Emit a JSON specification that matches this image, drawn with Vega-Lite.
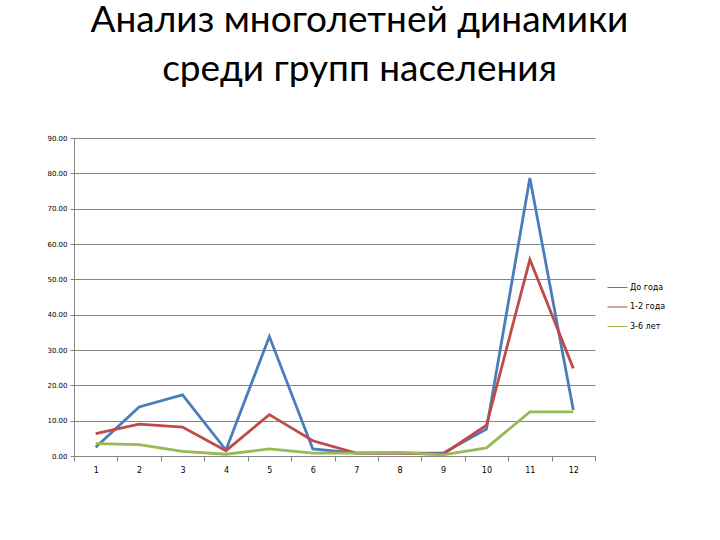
{
  "$schema": "https://vega.github.io/schema/vega-lite/v6.json",
  "autosize": "none",
  "width": 521,
  "height": 318,
  "padding": {"left": 74, "top": 138, "right": 125, "bottom": 84},
  "background": "white",
  "title": {
    "text": ["Анализ многолетней динамики", "среди групп населения"],
    "font": "Lato",
    "fontSize": 37,
    "fontWeight": "normal",
    "color": "black",
    "anchor": "middle",
    "frame": "group",
    "dx": 25,
    "lineHeight": 49,
    "offset": 45
  },
  "data": {
    "values": [
      {"x": 1, "v": 2.5, "s": "До года"},
      {"x": 2, "v": 13.9, "s": "До года"},
      {"x": 3, "v": 17.3, "s": "До года"},
      {"x": 4, "v": 1.7, "s": "До года"},
      {"x": 5, "v": 33.8, "s": "До года"},
      {"x": 6, "v": 2.0, "s": "До года"},
      {"x": 7, "v": 0.8, "s": "До года"},
      {"x": 8, "v": 0.8, "s": "До года"},
      {"x": 9, "v": 0.8, "s": "До года"},
      {"x": 10, "v": 7.6, "s": "До года"},
      {"x": 11, "v": 78.7, "s": "До года"},
      {"x": 12, "v": 13.0, "s": "До года"},
      {"x": 1, "v": 6.3, "s": "1-2 года"},
      {"x": 2, "v": 9.0, "s": "1-2 года"},
      {"x": 3, "v": 8.2, "s": "1-2 года"},
      {"x": 4, "v": 1.5, "s": "1-2 года"},
      {"x": 5, "v": 11.7, "s": "1-2 года"},
      {"x": 6, "v": 4.3, "s": "1-2 года"},
      {"x": 7, "v": 0.8, "s": "1-2 года"},
      {"x": 8, "v": 0.8, "s": "1-2 года"},
      {"x": 9, "v": 0.5, "s": "1-2 года"},
      {"x": 10, "v": 8.7, "s": "1-2 года"},
      {"x": 11, "v": 55.6, "s": "1-2 года"},
      {"x": 12, "v": 24.8, "s": "1-2 года"},
      {"x": 1, "v": 3.5, "s": "3-6 лет"},
      {"x": 2, "v": 3.2, "s": "3-6 лет"},
      {"x": 3, "v": 1.3, "s": "3-6 лет"},
      {"x": 4, "v": 0.5, "s": "3-6 лет"},
      {"x": 5, "v": 2.0, "s": "3-6 лет"},
      {"x": 6, "v": 0.8, "s": "3-6 лет"},
      {"x": 7, "v": 0.8, "s": "3-6 лет"},
      {"x": 8, "v": 1.0, "s": "3-6 лет"},
      {"x": 9, "v": 0.3, "s": "3-6 лет"},
      {"x": 10, "v": 2.3, "s": "3-6 лет"},
      {"x": 11, "v": 12.5, "s": "3-6 лет"},
      {"x": 12, "v": 12.5, "s": "3-6 лет"}
    ]
  },
  "mark": {"type": "line", "strokeWidth": 2.8, "strokeJoin": "miter"},
  "encoding": {
    "x": {
      "field": "x",
      "type": "ordinal",
      "scale": {"type": "band", "paddingInner": 0, "paddingOuter": 0},
      "axis": {
        "title": null,
        "labelAngle": 0,
        "labelFont": "DejaVu Sans",
        "labelFontSize": 8,
        "labelColor": "black",
        "labelPadding": 5,
        "tickBand": "extent",
        "tickSize": 5,
        "tickColor": "#868686",
        "domainColor": "#868686",
        "grid": false
      }
    },
    "y": {
      "field": "v",
      "type": "quantitative",
      "scale": {"domain": [0, 90], "nice": false},
      "axis": {
        "title": null,
        "values": [0, 10, 20, 30, 40, 50, 60, 70, 80, 90],
        "format": ".2f",
        "labelFont": "DejaVu Sans",
        "labelFontSize": 7,
        "labelColor": "black",
        "labelPadding": 3,
        "tickSize": 4,
        "tickColor": "#868686",
        "domainColor": "#868686",
        "grid": true,
        "gridColor": "#868686",
        "gridOpacity": 1
      }
    },
    "color": {
      "field": "s",
      "type": "nominal",
      "scale": {"domain": ["До года", "1-2 года", "3-6 лет"], "range": ["#4a7ebb", "#be4b48", "#98b954"]},
      "legend": {
        "title": null,
        "orient": "none",
        "legendX": 533,
        "legendY": 139,
        "symbolType": "stroke",
        "symbolSize": 400,
        "symbolStrokeWidth": 1,
        "rowPadding": 4.5,
        "labelFont": "DejaVu Sans",
        "labelFontSize": 8,
        "labelColor": "black",
        "labelOffset": 2
      }
    }
  },
  "config": {"view": {"stroke": null}}
}
